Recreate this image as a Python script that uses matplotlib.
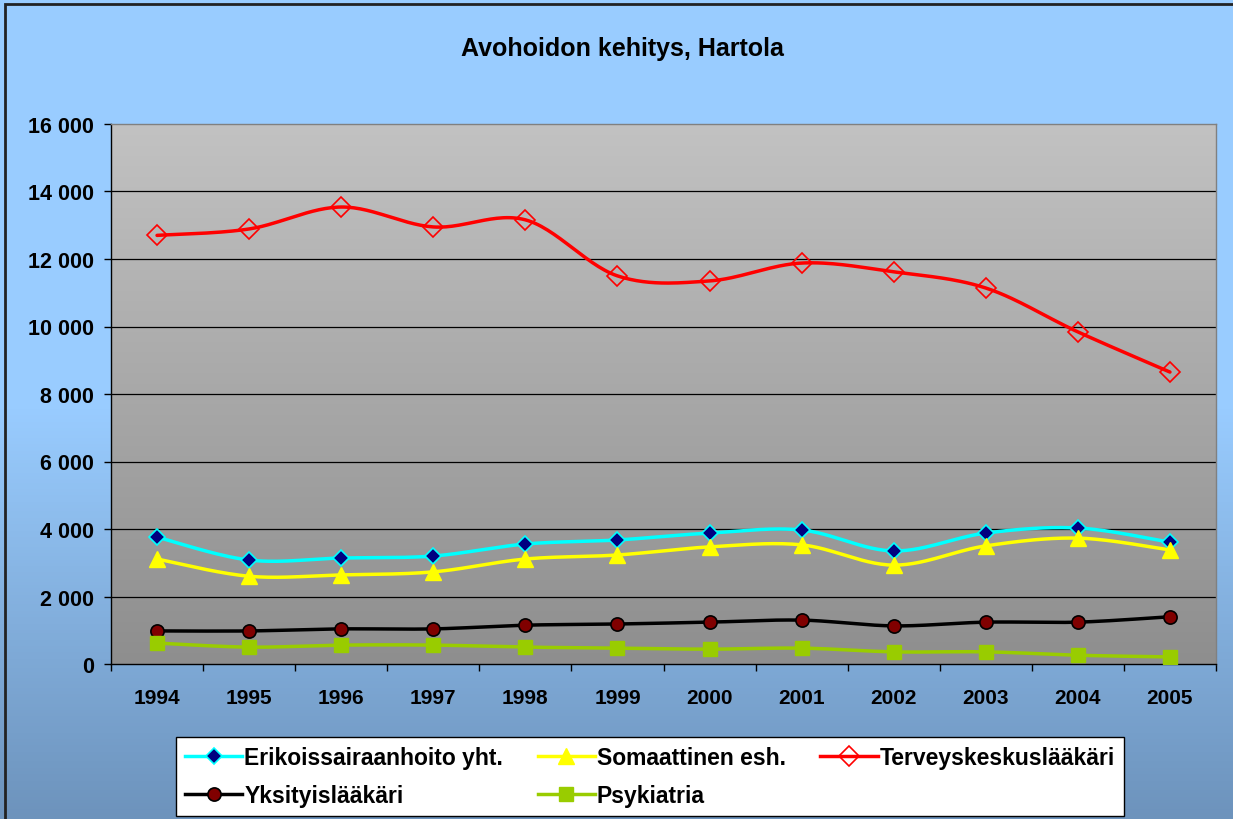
import numpy as np
import matplotlib.pyplot as plt
from matplotlib.colors import LinearSegmentedColormap
from matplotlib.lines import Line2D
from matplotlib.patches import Rectangle
from matplotlib.ticker import FixedLocator, FuncFormatter

plt.rcParams['font.family'] = ['Liberation Sans', 'DejaVu Sans']

VUODET = ["1994", "1995", "1996", "1997", "1998", "1999",
          "2000", "2001", "2002", "2003", "2004", "2005"]
ERIKOIS = [3760, 3080, 3140, 3200, 3555, 3675, 3880, 3970, 3350, 3880, 4030, 3610]
SOMAATTINEN = [3110, 2600, 2640, 2730, 3110, 3230, 3470, 3530, 2930, 3500, 3730, 3380]
TERVEYS = [12700, 12890, 13540, 12950, 13160, 11500, 11350, 11880, 11620, 11140, 9840, 8650]
YKSITYIS = [980, 980, 1040, 1040, 1150, 1185, 1240, 1300, 1130, 1240, 1240, 1400]
PSYKIATRIA = [620, 500, 560, 560, 500, 470, 440, 470, 360, 360, 260, 210]
Y_TICKS = [0, 2000, 4000, 6000, 8000, 10000, 12000, 14000, 16000]


# Excelin "tasoitettu viiva": Bezier-kaari pisteiden kautta
def tasoita(x, y, n=30):
    x = np.asarray(x, dtype=float)
    y = np.asarray(y, dtype=float)
    px = np.concatenate([[x[0]], x, [x[-1]]])
    py = np.concatenate([[y[0]], y, [y[-1]]])
    xs, ys = [], []
    t = np.linspace(0, 1, n)
    for i in range(1, len(px) - 2):
        for p, out in ((px, xs), (py, ys)):
            p0, p1, p2, p3 = p[i - 1], p[i], p[i + 1], p[i + 2]
            c1 = p1 + (p2 - p0) / 6
            c2 = p2 - (p3 - p1) / 6
            out.extend((1 - t) ** 3 * p1 + 3 * (1 - t) ** 2 * t * c1
                       + 3 * (1 - t) * t ** 2 * c2 + t ** 3 * p2)
    return np.array(xs), np.array(ys)


fig = plt.figure(figsize=(12.33, 8.2), dpi=100)

# taustan liukuväri
bg = fig.add_axes([0, 0, 1, 1], zorder=-10)
bg_cmap = LinearSegmentedColormap.from_list("bg", ["#99CCFF", "#99CCFF", "#6D93BC"])
bg.imshow(np.linspace(0, 1, 256).reshape(-1, 1), cmap=bg_cmap, aspect='auto',
          extent=[0, 1, 0, 1], origin='upper')
bg.add_patch(Rectangle((5 / 1233, -0.1), 1.2, 1 - 5 / 820 + 0.1, fill=False,
                       edgecolor='#222222', linewidth=2))
bg.set_xlim(0, 1)
bg.set_ylim(0, 1)
bg.axis('off')

ax = fig.add_axes([111 / 1233, 1 - 665 / 820, (1216 - 111) / 1233, (665 - 125) / 820])
x = np.arange(len(VUODET))
ax.set_xlim(-0.5, len(VUODET) - 0.5)
ax.set_ylim(0, 16000)

plot_cmap = LinearSegmentedColormap.from_list("pa", ["#C2C2C2", "#8E8E8E"])
ax.imshow(np.linspace(0, 1, 256).reshape(-1, 1), cmap=plot_cmap, aspect='auto',
          extent=[-0.5, len(VUODET) - 0.5, 0, 16000], origin='upper', zorder=0)

for yt in Y_TICKS[1:-1]:
    ax.axhline(yt, color='black', linewidth=0.9, zorder=1)

sarjat = [
    ("Erikoissairaanhoito yht.", ERIKOIS, dict(color='#00FFFF', marker='D', ms=8.5,
                                               mfc='#000080', mec='#00FFFF', mew=1.2)),
    ("Somaattinen esh.", SOMAATTINEN, dict(color='#FFFF00', marker='^', ms=11.5,
                                           mfc='#FFFF00', mec='#FFFF00', mew=1)),
    ("Terveyskeskuslääkäri", TERVEYS, dict(color='#FF0000', marker='D', ms=10,
                                           mfc='none', mec='#FF0000', mew=1.2)),
    ("Yksityislääkäri", YKSITYIS, dict(color='black', marker='o', ms=9.5,
                                       mfc='#800000', mec='black', mew=1.2)),
    ("Psykiatria", PSYKIATRIA, dict(color='#99CC00', marker='s', ms=9.5,
                                    mfc='#99CC00', mec='#99CC00', mew=1)),
]

kahvat = {}
for nimi, arvot, tyyli in sarjat:
    sx, sy = tasoita(x, arvot)
    ax.plot(sx, sy, color=tyyli['color'], linewidth=2.5, zorder=3, solid_capstyle='round')
    ax.plot(x, arvot, linestyle='none', zorder=4, **{k: v for k, v in tyyli.items() if k != 'color'})
    kahvat[nimi] = Line2D([], [], linewidth=2.5, **tyyli)

# otsikko keskitetään koko kaavioalueen mukaan
fig.text(622 / 1233, 1 - 56 / 820, "Avohoidon kehitys, Hartola", fontsize=18,
         fontweight='bold', ha='center', va='baseline')

ax.yaxis.set_major_locator(FixedLocator(Y_TICKS))
ax.yaxis.set_major_formatter(FuncFormatter(lambda v, p: f"{int(v):,}".replace(",", " ")))
ax.set_xticks(x)
ax.set_xticklabels(VUODET)
ax.set_xticks(np.arange(-0.5, len(VUODET)), minor=True)
ax.tick_params(axis='x', which='major', length=0, pad=17, labelsize=15)
ax.tick_params(axis='x', which='minor', length=5, width=1, direction='out')
ax.tick_params(axis='y', length=5, width=1, direction='out', pad=7, labelsize=15.5)
for lab in ax.get_xticklabels() + ax.get_yticklabels():
    lab.set_fontweight('bold')

ax.spines['left'].set_color('black')
ax.spines['bottom'].set_color('black')
ax.spines['top'].set_color('#808080')
ax.spines['right'].set_color('#808080')
for s in ax.spines.values():
    s.set_linewidth(1)

# rivit täytetään sarakkeittain, joten järjestys muutetaan
jarjestys = ["Erikoissairaanhoito yht.", "Yksityislääkäri", "Somaattinen esh.",
             "Psykiatria", "Terveyskeskuslääkäri"]
leg = fig.legend([kahvat[n] for n in jarjestys], jarjestys, ncol=3,
                 loc='lower left', mode='expand',
                 bbox_to_anchor=(176 / 1233, 1 - 817 / 820, (1124 - 176) / 1233, (817 - 738) / 820),
                 prop=dict(size=16.5, weight='bold'), frameon=True, fancybox=False,
                 framealpha=1, edgecolor='black', handlelength=2.5, handletextpad=0.08,
                 borderaxespad=0, borderpad=0.4, labelspacing=0.65, columnspacing=0.8)
leg.get_frame().set_linewidth(1)

fig.savefig("out.png", dpi=100)
